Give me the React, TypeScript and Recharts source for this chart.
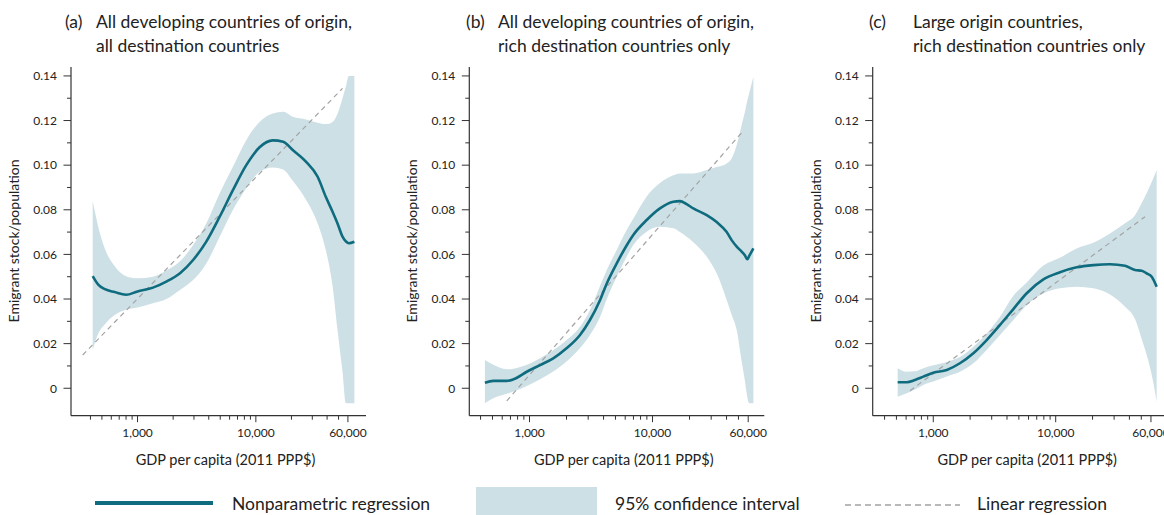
import React from 'react';
import { ComposedChart, Area, Line, XAxis, YAxis } from 'recharts';

const FONT = 'Lato, "Open Sans", "DejaVu Sans", sans-serif';
const TEAL = '#0f6b7e';
const BAND = '#cde0e6';
const DASH = '#a3a3a3';
const AXIS = '#333333';
const TEXT = '#222222';

// ---- ticks ----
const xMajorTicks = [1000, 10000, 60000];
const xTickLabels = ['1,000', '10,000', '60,000'];
const xMinorTicks = [400, 500, 600, 700, 800, 900, 2000, 3000, 4000, 5000, 6000, 7000, 8000, 9000, 20000, 30000, 40000, 50000];
const yMajorTicks = [0, 0.02, 0.04, 0.06, 0.08, 0.1, 0.12, 0.14];
const yTickLabels = ['0', '0.02', '0.04', '0.06', '0.08', '0.10', '0.12', '0.14'];
const yMinorTicks = [0.01, 0.03, 0.05, 0.07, 0.09, 0.11, 0.13];

// ---- panel (a) ----
const aGdp = [418, 470, 530, 640, 800, 1000, 1350, 1750, 2300, 2950, 3800, 4950, 6400, 8300, 10750, 13900, 17000, 20500, 26600, 33300, 39000, 44600, 49000, 54000, 57800, 61000, 68000];
const aNp = [0.0503, 0.0462, 0.0444, 0.0431, 0.0419, 0.0434, 0.0451, 0.0478, 0.0517, 0.0575, 0.0656, 0.0769, 0.0888, 0.1, 0.108, 0.1111, 0.1105, 0.1068, 0.1015, 0.0948, 0.0858, 0.079, 0.0739, 0.068, 0.0658, 0.065, 0.0657];
const aLo = [0.0172, 0.025, 0.0287, 0.0328, 0.0352, 0.0362, 0.0381, 0.04, 0.0442, 0.0485, 0.0558, 0.0679, 0.0799, 0.0896, 0.097, 0.099, 0.098, 0.093, 0.0844, 0.0739, 0.062, 0.0455, 0.0261, 0.0075, -0.0067, -0.0067, -0.0067];
const aHi = [0.084, 0.0715, 0.0625, 0.0548, 0.0502, 0.0493, 0.05, 0.0528, 0.057, 0.0642, 0.0737, 0.0874, 0.0993, 0.1112, 0.1194, 0.1232, 0.1239, 0.1217, 0.1205, 0.119, 0.1184, 0.1194, 0.123, 0.13, 0.1355, 0.14, 0.14];
const aLinGdp = [344, 54000];
const aLinVal = [0.0149, 0.1344];

// ---- panel (b) ----
const bGdp = [434, 508, 653, 740, 950, 1220, 1560, 2000, 2575, 3100, 3750, 4250, 5120, 6160, 6980, 8970, 11500, 14760, 16740, 18950, 21480, 27600, 33250, 40100, 44000, 48400, 53100, 56500, 59000, 61000, 66100];
const bNp = [0.0025, 0.0033, 0.0033, 0.004, 0.0074, 0.0104, 0.0134, 0.0179, 0.0239, 0.0306, 0.0396, 0.047, 0.056, 0.064, 0.0687, 0.0754, 0.0806, 0.0836, 0.0839, 0.0825, 0.0806, 0.0776, 0.0745, 0.07, 0.0664, 0.0635, 0.0612, 0.0595, 0.0578, 0.0592, 0.0627];
const bLo = [-0.0067, -0.0045, -0.0025, -0.0015, 0.001, 0.004, 0.0075, 0.012, 0.018, 0.0239, 0.032, 0.04, 0.05, 0.059, 0.0642, 0.0702, 0.0724, 0.0717, 0.07, 0.0679, 0.0655, 0.059, 0.0515, 0.0396, 0.033, 0.0261, 0.012, 0.003, -0.004, -0.0067, -0.0067];
const bHi = [0.0127, 0.0105, 0.0085, 0.0088, 0.0105, 0.0135, 0.017, 0.0216, 0.0276, 0.035, 0.046, 0.053, 0.062, 0.0709, 0.076, 0.086, 0.092, 0.0955, 0.0963, 0.0963, 0.0963, 0.0978, 0.0992, 0.1008, 0.103, 0.109, 0.118, 0.124, 0.129, 0.132, 0.1396];
const bLinGdp = [653, 54000];
const bLinVal = [-0.0057, 0.115];

// ---- panel (c) ----
const cGdp = [512, 607, 708, 829, 1000, 1290, 1650, 2125, 2730, 3510, 4510, 5800, 7930, 10840, 14830, 20300, 27760, 36840, 44460, 50450, 55300, 60850, 66800];
const cNp = [0.0027, 0.0027, 0.0037, 0.0052, 0.007, 0.0082, 0.0112, 0.0157, 0.0216, 0.0284, 0.0355, 0.0426, 0.0488, 0.052, 0.0542, 0.0552, 0.0556, 0.0549, 0.053, 0.0527, 0.0515, 0.05, 0.0455];
const cLo = [-0.0038, -0.0022, -0.0005, 0.0015, 0.003, 0.0053, 0.0074, 0.0112, 0.0172, 0.0239, 0.0306, 0.0373, 0.0425, 0.0448, 0.0455, 0.0448, 0.042, 0.0365, 0.031, 0.022, 0.015, 0.006, -0.006];
const cHi = [0.009, 0.0074, 0.0076, 0.009, 0.0103, 0.0118, 0.014, 0.0186, 0.0246, 0.0321, 0.0415, 0.0474, 0.055, 0.0585, 0.0627, 0.0652, 0.0694, 0.074, 0.0776, 0.083, 0.0874, 0.0925, 0.0978];
const cLinGdp = [646, 53700];
const cLinVal = [-0.0011, 0.0769];

const panelTitles = [
  ['(a)', 'All developing countries of origin,', 'all destination countries'],
  ['(b)', 'All developing countries of origin,', 'rich destination countries only'],
  ['(c)', 'Large origin countries,', 'rich destination countries only'],
];
const xAxisTitle = 'GDP per capita (2011 PPP$)';
const yAxisTitle = 'Emigrant stock/population';
const legendLabels = ['Nonparametric regression', '95% confidence interval', 'Linear regression'];

const CHART_W = 400;
const CHART_H = 480;
const Y_AXIS_W = 60;
const X_AXIS_H = 50;
const PLOT_TOP = 67;
const PLOT_BOTTOM = 415.7;
const PLOT_W = 295;

type PanelCfg = {
  left: number;
  plotLeft: number;
  domain: [number, number];
  gdp: number[];
  np: number[];
  lo: number[];
  hi: number[];
  linGdp: number[];
  linVal: number[];
  titleX: number[];
};

const panels: PanelCfg[] = [
  { left: 0, plotLeft: 71, domain: [274, 85300], gdp: aGdp, np: aNp, lo: aLo, hi: aHi, linGdp: aLinGdp, linVal: aLinVal, titleX: [65, 96, 96] },
  { left: 400, plotLeft: 469.3, domain: [324, 81100], gdp: bGdp, np: bNp, lo: bLo, hi: bHi, linGdp: bLinGdp, linVal: bLinVal, titleX: [466, 498, 498] },
  { left: 800, plotLeft: 872.7, domain: [320, 82200], gdp: cGdp, np: cNp, lo: cLo, hi: cHi, linGdp: cLinGdp, linVal: cLinVal, titleX: [869, 913, 913] },
];

function XTick(props: any) {
  const { x, y, payload } = props;
  const v = payload.value;
  const idx = xMajorTicks.indexOf(v);
  const major = idx >= 0;
  return (
    <g>
      <line x1={x} x2={x} y1={y} y2={y + (major ? 6.5 : 4)} stroke={AXIS} strokeWidth={1} />
      {major && (
        <text x={x} y={y + 21.5} textAnchor="middle" fontSize={12} fill={TEXT} fontFamily={FONT}>
          {xTickLabels[idx]}
        </text>
      )}
    </g>
  );
}

function YTick(props: any) {
  const { x, y, payload } = props;
  const v = payload.value;
  const idx = yMajorTicks.findIndex((t) => Math.abs(t - v) < 1e-9);
  const major = idx >= 0;
  return (
    <g>
      <line x1={x - (major ? 7.5 : 4)} x2={x} y1={y} y2={y} stroke={AXIS} strokeWidth={1} />
      {major && (
        <text x={x - 14} y={y + 4.3} textAnchor="end" fontSize={12} fill={TEXT} fontFamily={FONT}>
          {yTickLabels[idx]}
        </text>
      )}
    </g>
  );
}

function Panel({ cfg }: { cfg: PanelCfg }) {
  const data = cfg.gdp.map((g, i) => ({ gdp: g, np: cfg.np[i], band: [cfg.lo[i], cfg.hi[i]] }));
  const lin = cfg.linGdp.map((g, i) => ({ gdp: g, lin: cfg.linVal[i] }));
  const marginLeft = cfg.plotLeft - cfg.left - Y_AXIS_W;
  const marginRight = CHART_W - (cfg.plotLeft - cfg.left) - PLOT_W;
  const marginBottom = CHART_H - PLOT_BOTTOM - X_AXIS_H;
  return (
    <div style={{ position: 'absolute', left: cfg.left, top: 0 }}>
      <ComposedChart
        width={CHART_W}
        height={CHART_H}
        data={data}
        margin={{ top: PLOT_TOP, right: marginRight, bottom: marginBottom, left: marginLeft }}
      >
        <XAxis
          dataKey="gdp"
          type="number"
          scale="log"
          domain={cfg.domain}
          allowDataOverflow
          ticks={[...xMajorTicks, ...xMinorTicks]}
          interval={0}
          tick={<XTick />}
          tickLine={false}
          tickSize={0}
          tickMargin={0}
          height={X_AXIS_H}
          axisLine={{ stroke: AXIS, strokeWidth: 1.2 }}
        />
        <YAxis
          type="number"
          domain={[-0.0123, 0.144]}
          allowDataOverflow
          ticks={[...yMajorTicks, ...yMinorTicks]}
          interval={0}
          tick={<YTick />}
          tickLine={false}
          tickSize={0}
          tickMargin={0}
          width={Y_AXIS_W}
          axisLine={{ stroke: AXIS, strokeWidth: 1.2 }}
        />
        <Area
          dataKey="band"
          type="monotone"
          stroke="none"
          fill={BAND}
          fillOpacity={1}
          isAnimationActive={false}
          dot={false}
          activeDot={false}
        />
        <Line
          data={lin}
          dataKey="lin"
          type="linear"
          stroke={DASH}
          strokeWidth={1.2}
          strokeDasharray="5 4"
          dot={false}
          activeDot={false}
          isAnimationActive={false}
        />
        <Line
          dataKey="np"
          type="monotone"
          stroke={TEAL}
          strokeWidth={2.6}
          dot={false}
          activeDot={false}
          isAnimationActive={false}
        />
      </ComposedChart>
    </div>
  );
}

export default function App() {
  return (
    <div
      style={{
        position: 'absolute',
        left: 0,
        top: 0,
        width: 1164,
        height: 515,
        overflow: 'hidden',
        background: '#ffffff',
      }}
    >
      {panels.map((p, i) => (
        <Panel key={i} cfg={p} />
      ))}
      <svg
        width={1164}
        height={515}
        style={{ position: 'absolute', left: 0, top: 0, pointerEvents: 'none' }}
        fontFamily={FONT}
      >
        {panels.map((p, i) => (
          <g key={i}>
            <text x={p.titleX[0]} y={28} fontSize={17.5} fill={TEXT}>{panelTitles[i][0]}</text>
            <text x={p.titleX[1]} y={28} fontSize={17.5} fill={TEXT}>{panelTitles[i][1]}</text>
            <text x={p.titleX[2]} y={52} fontSize={17.5} fill={TEXT}>{panelTitles[i][2]}</text>
            <text x={p.plotLeft + 154.5} y={465} fontSize={14.5} fill={TEXT} textAnchor="middle">
              {xAxisTitle}
            </text>
            <text
              x={p.plotLeft - 52}
              y={241}
              fontSize={14}
              fill={TEXT}
              textAnchor="middle"
              transform={`rotate(-90, ${p.plotLeft - 52}, 241)`}
            >
              {yAxisTitle}
            </text>
          </g>
        ))}
        {/* legend */}
        <line x1={95} x2={213} y1={503} y2={503} stroke={TEAL} strokeWidth={4} />
        <text x={232} y={510} fontSize={17.5} fill={TEXT}>{legendLabels[0]}</text>
        <rect x={476} y={487} width={121} height={28} fill={BAND} />
        <text x={615} y={510} fontSize={17.5} fill={TEXT}>{legendLabels[1]}</text>
        <line x1={845} x2={960} y1={505} y2={505} stroke={DASH} strokeWidth={1.3} strokeDasharray="6 4" />
        <text x={977} y={510} fontSize={17.5} fill={TEXT}>{legendLabels[2]}</text>
      </svg>
    </div>
  );
}
